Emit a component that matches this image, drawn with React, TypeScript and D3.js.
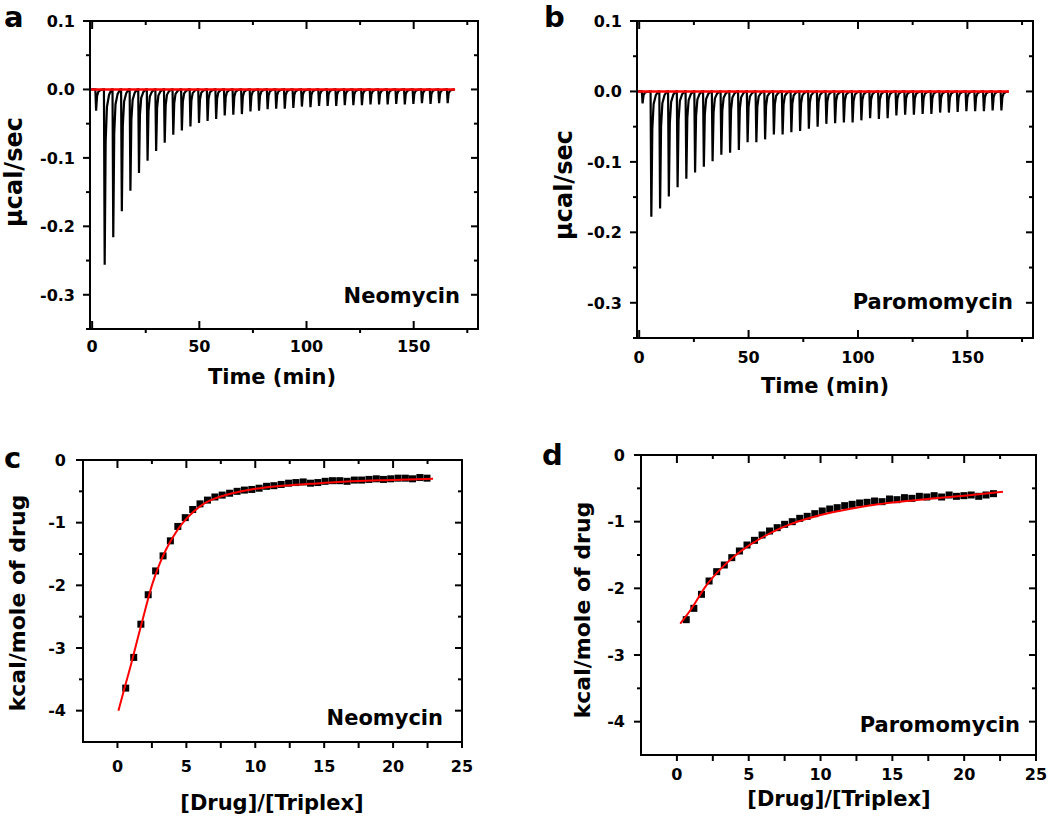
import React from 'react';
import * as d3 from 'd3';

const FONT = "'DejaVu Sans', Verdana, sans-serif";

// ---------- Panel a: Neomycin raw ITC ----------
const neoTimes = [1.5, 5.5, 9.5, 13.5, 17.5, 21.5, 25.5, 29.5, 33.5, 37.5, 41.5, 45.5, 49.5, 53.5, 57.5, 61.5, 65.5, 69.5, 73.5, 77.5, 81.5, 85.5, 89.5, 93.5, 97.5, 101.5, 105.5, 109.5, 113.5, 117.5, 121.5, 125.5, 129.5, 133.5, 137.5, 141.5, 145.5, 149.5, 153.5, 157.5, 161.5, 165.5];
const neoPeaks = [-0.031, -0.256, -0.216, -0.178, -0.148, -0.122, -0.104, -0.090, -0.078, -0.066, -0.060, -0.054, -0.049, -0.046, -0.043, -0.038, -0.037, -0.036, -0.032, -0.031, -0.029, -0.028, -0.028, -0.027, -0.025, -0.026, -0.024, -0.024, -0.024, -0.023, -0.023, -0.023, -0.022, -0.022, -0.022, -0.021, -0.022, -0.021, -0.020, -0.021, -0.020, -0.020];

// ---------- Panel b: Paromomycin raw ITC ----------
const paroTimes = [1.2, 5.2, 9.2, 13.2, 17.2, 21.2, 25.2, 29.2, 33.2, 37.2, 41.2, 45.2, 49.2, 53.2, 57.2, 61.2, 65.2, 69.2, 73.2, 77.2, 81.2, 85.2, 89.2, 93.2, 97.2, 101.2, 105.2, 109.2, 113.2, 117.2, 121.2, 125.2, 129.2, 133.2, 137.2, 141.2, 145.2, 149.2, 153.2, 157.2, 161.2, 165.2];
const paroPeaks = [-0.017, -0.178, -0.166, -0.149, -0.136, -0.124, -0.115, -0.107, -0.099, -0.090, -0.087, -0.083, -0.072, -0.072, -0.068, -0.061, -0.061, -0.058, -0.056, -0.053, -0.050, -0.046, -0.045, -0.044, -0.044, -0.041, -0.038, -0.039, -0.038, -0.034, -0.033, -0.033, -0.032, -0.032, -0.030, -0.030, -0.029, -0.028, -0.028, -0.028, -0.027, -0.027];

// ---------- Panel c: Neomycin isotherm ----------
const neoRatio = [0.60, 1.18, 1.70, 2.23, 2.77, 3.31, 3.84, 4.38, 4.92, 5.46, 5.99, 6.53, 7.07, 7.60, 8.14, 8.68, 9.21, 9.75, 10.28, 10.82, 11.35, 11.88, 12.42, 12.95, 13.48, 14.01, 14.54, 15.07, 15.60, 16.13, 16.66, 17.19, 17.72, 18.25, 18.78, 19.30, 19.83, 20.36, 20.89, 21.41, 21.94, 22.46];
const neoHeat = [-3.64, -3.15, -2.62, -2.15, -1.77, -1.53, -1.29, -1.06, -0.92, -0.79, -0.70, -0.64, -0.59, -0.56, -0.53, -0.50, -0.48, -0.47, -0.45, -0.42, -0.41, -0.39, -0.37, -0.36, -0.35, -0.37, -0.36, -0.34, -0.33, -0.33, -0.34, -0.32, -0.32, -0.31, -0.30, -0.31, -0.30, -0.29, -0.29, -0.30, -0.28, -0.29];
const neoFitX = [0.07, 0.5, 1.0, 1.5, 2.0, 2.5, 3.0, 3.5, 4.0, 4.5, 5.0, 5.5, 6.0, 6.5, 7.0, 8.0, 9.0, 10.0, 12.0, 14.0, 16.0, 18.0, 20.0, 22.9];
const neoFitY = [-4.0, -3.65, -3.25, -2.82, -2.40, -2.00, -1.69, -1.44, -1.24, -1.07, -0.94, -0.83, -0.74, -0.67, -0.62, -0.55, -0.50, -0.46, -0.41, -0.38, -0.35, -0.33, -0.32, -0.30];

// ---------- Panel d: Paromomycin isotherm ----------
const paroRatio = [0.65, 1.18, 1.71, 2.24, 2.77, 3.30, 3.82, 4.35, 4.88, 5.40, 5.93, 6.45, 6.98, 7.50, 8.03, 8.55, 9.07, 9.60, 10.12, 10.64, 11.16, 11.68, 12.20, 12.72, 13.24, 13.76, 14.28, 14.80, 15.32, 15.84, 16.36, 16.88, 17.40, 17.91, 18.43, 18.95, 19.46, 19.98, 20.49, 21.01, 21.52, 22.04];
const paroHeat = [-2.47, -2.30, -2.09, -1.89, -1.75, -1.65, -1.54, -1.44, -1.35, -1.28, -1.20, -1.14, -1.09, -1.04, -1.00, -0.95, -0.92, -0.88, -0.84, -0.81, -0.79, -0.76, -0.74, -0.72, -0.71, -0.69, -0.70, -0.66, -0.67, -0.64, -0.65, -0.62, -0.63, -0.61, -0.63, -0.60, -0.62, -0.61, -0.60, -0.62, -0.60, -0.58];
const paroFitX = [0.23, 1, 2, 3, 4, 5, 6, 7, 8, 9, 10, 12, 14, 16, 18, 20, 22.7];
const paroFitY = [-2.53, -2.31, -1.97, -1.72, -1.52, -1.36, -1.23, -1.12, -1.03, -0.96, -0.90, -0.81, -0.74, -0.69, -0.65, -0.61, -0.55];

// ---------- Ticks ----------
const timeMajor = [0, 50, 100, 150];
const timeMinor = [25, 75, 125, 175];
const powerMajor = [0.1, 0.0, -0.1, -0.2, -0.3];
const powerMinor = [0.05, -0.05, -0.15, -0.25, -0.35];
const ratioMajor = [0, 5, 10, 15, 20, 25];
const ratioMinor = [2.5, 7.5, 12.5, 17.5, 22.5];
const heatMajor = [0, -1, -2, -3, -4];
const heatMinor = [-0.5, -1.5, -2.5, -3.5];

type PanelProps = {
  left: number; right: number; top: number; bottom: number;
  xDomain: [number, number]; yDomain: [number, number];
  xMajor: number[]; xMinor: number[]; yMajor: number[]; yMinor: number[];
  xFmt: (v: number) => string; yFmt: (v: number) => string;
  kind: 'itc' | 'iso';
  xLabelY: number; xTitle: string; xTitleX: number; xTitleY: number;
  yTitle: string; yTitleX: number; yTitleY: number; yTitleSize: number;
  yLabelGap: number;
  letter: string; letterX: number; letterY: number;
  name: string; nameY: number; nameRight: number;
  render: (x: d3.ScaleLinear<number, number>, y: d3.ScaleLinear<number, number>) => React.ReactNode;
};

function Panel(p: PanelProps) {
  const x = d3.scaleLinear().domain(p.xDomain).range([p.left, p.right]);
  const y = d3.scaleLinear().domain(p.yDomain).range([p.bottom, p.top]);
  const itc = p.kind === 'itc';
  const lines: React.ReactNode[] = [];
  const seg = (k: string, x1: number, y1: number, x2: number, y2: number) =>
    lines.push(<line key={k} x1={x1} y1={y1} x2={x2} y2={y2} stroke="#000" strokeWidth={2} />);
  p.xMajor.forEach((v, i) => {
    const px = x(v);
    if (itc) seg('bM' + i, px, p.bottom, px, p.bottom - 8);
    else seg('bM' + i, px, p.bottom, px, p.bottom + 6);
    seg('tM' + i, px, p.top, px, p.top + 8);
  });
  p.xMinor.forEach((v, i) => {
    const px = x(v);
    if (itc) seg('bm' + i, px, p.bottom, px, p.bottom + 4);
    else seg('bm' + i, px, p.bottom, px, p.bottom + 6);
    seg('tm' + i, px, p.top, px, p.top + 4);
  });
  p.yMajor.forEach((v, i) => {
    const py = y(v);
    seg('lM' + i, p.left - 7, py, p.left, py);
    seg('rM' + i, p.right - 7, py, p.right, py);
  });
  p.yMinor.forEach((v, i) => {
    const py = y(v);
    seg('lm' + i, p.left - 4, py, p.left, py);
    seg('rm' + i, p.right - 4, py, p.right, py);
  });
  return (
    <g>
      <g>{p.render(x, y)}</g>
      <rect x={p.left} y={p.top} width={p.right - p.left} height={p.bottom - p.top} fill="none" stroke="#000" strokeWidth={2} />
      {lines}
      <g fontFamily={FONT} fontWeight="bold" fontSize={16} fill="#000">
        {p.xMajor.map((v, i) => (
          <text key={'xl' + i} x={x(v)} y={p.xLabelY} textAnchor="middle">{p.xFmt(v)}</text>
        ))}
        {p.yMajor.map((v, i) => (
          <text key={'yl' + i} x={p.left - p.yLabelGap} y={y(v)} dy="0.36em" textAnchor="end">{p.yFmt(v)}</text>
        ))}
      </g>
      <text x={p.xTitleX} y={p.xTitleY} textAnchor="middle" fontFamily={FONT} fontWeight="bold" fontSize={21}>{p.xTitle}</text>
      <text transform={`translate(${p.yTitleX},${p.yTitleY}) rotate(-90)`} textAnchor="middle" fontFamily={FONT} fontWeight="bold" fontSize={p.yTitleSize}>{p.yTitle}</text>
      <text x={p.letterX} y={p.letterY} fontFamily={FONT} fontWeight="bold" fontSize={29}>{p.letter}</text>
      <text x={p.nameRight} y={p.nameY} textAnchor="end" fontFamily={FONT} fontWeight="bold" fontSize={21}>{p.name}</text>
    </g>
  );
}

function thermogram(times: number[], peaks: number[]): [number, number][] {
  const pts: [number, number][] = [[-0.5, 0]];
  times.forEach((t, i) => {
    const p = peaks[i];
    pts.push([t, 0], [t + 0.35, p], [t + 0.8, p * 0.3], [t + 1.4, p * 0.1], [t + 2.4, p * 0.03], [t + 3.6, 0]);
  });
  return pts;
}

function ITCMarks(times: number[], peaks: number[]) {
  return (x: d3.ScaleLinear<number, number>, y: d3.ScaleLinear<number, number>) => {
    const line = d3.line<[number, number]>().x(d => x(d[0])).y(d => y(d[1]));
    const last = times[times.length - 1] + 3.8;
    return (
      <g>
        <path d={line(thermogram(times, peaks)) || ''} fill="none" stroke="#000" strokeWidth={2.2} strokeLinejoin="miter" />
        <line x1={x(-0.5)} x2={x(last)} y1={y(0)} y2={y(0)} stroke="#ff0000" strokeWidth={2.5} />
      </g>
    );
  };
}

function IsoMarks(rx: number[], hy: number[], fx: number[], fy: number[]) {
  return (x: d3.ScaleLinear<number, number>, y: d3.ScaleLinear<number, number>) => {
    const fit = fx.map((v, i) => [v, fy[i]] as [number, number]);
    const line = d3.line<[number, number]>().x(d => x(d[0])).y(d => y(d[1])).curve(d3.curveMonotoneX);
    return (
      <g>
        {rx.map((v, i) => (
          <rect key={i} x={x(v) - 3.5} y={y(hy[i]) - 3.5} width={7} height={7} fill="#000" />
        ))}
        <path d={line(fit) || ''} fill="none" stroke="#ff0000" strokeWidth={2} />
      </g>
    );
  };
}

const fmt1 = (v: number) => (Math.abs(v) < 1e-9 ? '0.0' : v.toFixed(1));
const fmt0 = (v: number) => (Math.abs(v) < 1e-9 ? '0' : String(v));

export default function App() {
  return (
    <svg width={1050} height={820} style={{ position: 'absolute', left: 0, top: 0, background: '#fff' }}>
      <rect x={0} y={0} width={1050} height={820} fill="#fff" />
      <Panel
        left={90} right={478} top={21} bottom={329}
        xDomain={[-1, 180]} yDomain={[-0.35, 0.1]}
        xMajor={timeMajor} xMinor={timeMinor} yMajor={powerMajor} yMinor={powerMinor}
        xFmt={fmt0} yFmt={fmt1} kind="itc"
        xLabelY={352} xTitle="Time (min)" xTitleX={272} xTitleY={384}
        yTitle="μcal/sec" yTitleX={22} yTitleY={172} yTitleSize={24}
        yLabelGap={15}
        letter="a" letterX={4} letterY={27}
        name="Neomycin" nameY={303} nameRight={460}
        render={ITCMarks(neoTimes, neoPeaks)}
      />
      <Panel
        left={637} right={1033} top={21} bottom={338}
        xDomain={[-1, 180]} yDomain={[-0.35, 0.1]}
        xMajor={timeMajor} xMinor={timeMinor} yMajor={powerMajor} yMinor={powerMinor}
        xFmt={fmt0} yFmt={fmt1} kind="itc"
        xLabelY={363} xTitle="Time (min)" xTitleX={825} xTitleY={393}
        yTitle="μcal/sec" yTitleX={572} yTitleY={185} yTitleSize={24}
        yLabelGap={15}
        letter="b" letterX={544} letterY={27}
        name="Paromomycin" nameY={309} nameRight={1013}
        render={ITCMarks(paroTimes, paroPeaks)}
      />
      <Panel
        left={83} right={462} top={460} bottom={742}
        xDomain={[-2.5, 25]} yDomain={[-4.5, 0]}
        xMajor={ratioMajor} xMinor={ratioMinor} yMajor={heatMajor} yMinor={heatMinor}
        xFmt={fmt0} yFmt={fmt0} kind="iso"
        xLabelY={772} xTitle="[Drug]/[Triplex]" xTitleX={272} xTitleY={810}
        yTitle="kcal/mole of drug" yTitleX={25} yTitleY={603} yTitleSize={22}
        yLabelGap={17}
        letter="c" letterX={4} letterY={468}
        name="Neomycin" nameY={725} nameRight={443}
        render={IsoMarks(neoRatio, neoHeat, neoFitX, neoFitY)}
      />
      <Panel
        left={641} right={1036} top={455} bottom={755}
        xDomain={[-2.5, 25]} yDomain={[-4.5, 0]}
        xMajor={ratioMajor} xMinor={ratioMinor} yMajor={heatMajor} yMinor={heatMinor}
        xFmt={fmt0} yFmt={fmt0} kind="iso"
        xLabelY={780} xTitle="[Drug]/[Triplex]" xTitleX={839} xTitleY={806}
        yTitle="kcal/mole of drug" yTitleX={590} yTitleY={610} yTitleSize={22}
        yLabelGap={16}
        letter="d" letterX={542} letterY={465}
        name="Paromomycin" nameY={732} nameRight={1020}
        render={IsoMarks(paroRatio, paroHeat, paroFitX, paroFitY)}
      />
    </svg>
  );
}
